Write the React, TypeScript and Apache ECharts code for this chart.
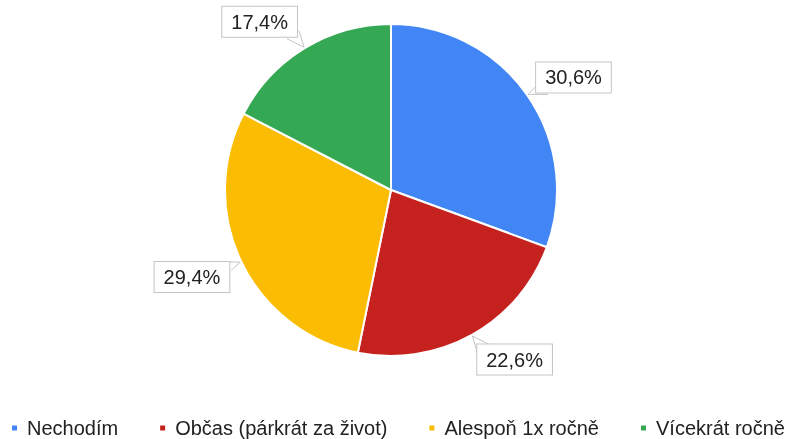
import React, { useEffect, useRef } from "react";
import * as echarts from "echarts";

const categories = ["Nechodím", "Občas (párkrát za život)", "Alespoň 1x ročně", "Vícekrát ročně"];
const values = [30.6, 22.6, 29.4, 17.4];
const colors = ["#4285F4", "#C5221F", "#FBBC04", "#34A853"];

const CX = 391;
const CY = 190;
const R = 166;
const GAP = 10;

export default function App() {
  const ref = useRef<HTMLDivElement>(null);
  useEffect(() => {
    if (!ref.current) return;
    const chart = echarts.init(ref.current, null, { renderer: "svg" });
    const total = values.reduce((a, b) => a + b, 0);
    const mids: number[] = [];
    let acc = 0;
    values.forEach((v) => {
      mids.push(((acc + v / 2) / total) * Math.PI * 2);
      acc += v;
    });
    chart.setOption({
      animation: false,
      color: colors,
      textStyle: { fontFamily: "Liberation Sans, Arial, sans-serif" },
      legend: {
        data: categories,
        top: 418,
        left: 10,
        width: 775,
        padding: 0,
        icon: "rect",
        itemWidth: 7,
        itemHeight: 7,
        itemGap: 40,
        textStyle: {
          fontSize: 20,
          color: "#222",
          fontFamily: "Liberation Sans, Arial, sans-serif",
          padding: [0, 0, 0, 4],
        },
      },
      series: [
        {
          type: "pie",
          center: [CX, CY],
          radius: [0, R],
          startAngle: 90,
          clockwise: true,
          itemStyle: { borderColor: "#fff", borderWidth: 2 },
          data: categories.map((c, i) => ({ name: c, value: values[i] })),
          label: {
            show: true,
            position: "outside",
            formatter: (p: any) => p.value.toFixed(1).replace(".", ",") + "%",
            fontSize: 20,
            color: "#222",
            fontFamily: "Liberation Sans, Arial, sans-serif",
            backgroundColor: "#fff",
            borderColor: "#c4c4c4",
            borderWidth: 1,
            padding: [5, 9, 5, 9],
          },
          labelLine: { show: true, length: 10, length2: 5, lineStyle: { color: "#c4c4c4", width: 1 } },
          labelLayout: (params: any) => {
            const a = mids[params.dataIndex];
            const sx = Math.sin(a);
            const sy = -Math.cos(a);
            const tip = [CX + sx * (R + 1), CY + sy * (R + 1)];
            const w = params.labelRect.width;
            const h = params.labelRect.height;
            // corner of the box nearest to the slice sits just outside the rim
            const offX = sx * GAP;
            const offY = Math.abs(sy) > 0.7 ? sy * GAP : 0;
            const cornerX = tip[0] + offX;
            const cornerY = tip[1] + offY;
            const x0 = sx >= 0 ? cornerX : cornerX - w;
            const y0 = sy >= 0 ? cornerY : cornerY - h;
            const bx = sx >= 0 ? x0 : x0 + w;
            const by = sy >= 0 ? y0 : y0 + h;
            const ix = sx >= 0 ? 1 : -1;
            const iy = sy >= 0 ? 1 : -1;
            const A = [bx + ix * 12, by];
            const B = [bx, by + iy * 8];
            return {
              x: x0,
              y: y0,
              align: "left",
              verticalAlign: "top",
              labelLinePoints: [A, tip, B],
            };
          },
        },
      ],
    });
    return () => chart.dispose();
  }, []);
  return <div ref={ref} style={{ position: "fixed", left: 0, top: 0, width: 785, height: 439 }} />;
}
